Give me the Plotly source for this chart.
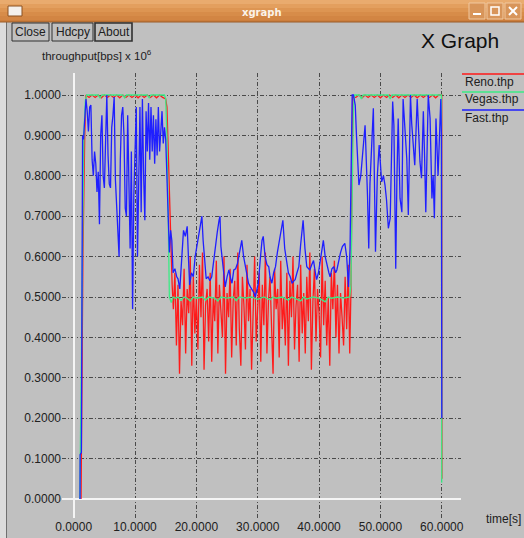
import plotly.graph_objects as go

# ---------------- data ----------------
series_names = ["Reno.thp", "Vegas.thp", "Fast.thp"]
x_tick_values = [0, 10, 20, 30, 40, 50, 60]

# Reno: explicit points
reno_rise = [(1.2, 0.0), (1.5, 0.6), (1.8, 0.9), (2.0, 1.0)]
reno_flat1_t0, reno_flat1_dt = 2.5, 0.5
reno_flat1_v = [0.994, 1.0, 0.994, 1.0, 0.993, 1.0, 0.994, 1.0, 0.994, 1.0, 0.993, 1.0, 0.994,
                1.0, 0.994, 1.0, 0.993, 1.0, 0.994, 1.0, 0.994, 1.0, 0.993, 1.0, 0.994, 0.99]
reno_drop = [(15.2, 0.97), (15.5, 0.80), (15.8, 0.64), (16.05, 0.53)]
reno_osc_t0, reno_osc_dt = 16.25, 0.25
reno_osc_v = [0.47, 0.56, 0.38, 0.53, 0.31, 0.49, 0.43, 0.57,
              0.36, 0.52, 0.46, 0.60, 0.33, 0.55, 0.41, 0.50,
              0.37, 0.58, 0.45, 0.61, 0.32, 0.48, 0.52, 0.39,
              0.56, 0.34, 0.50, 0.44, 0.59, 0.36, 0.53, 0.47,
              0.40, 0.60, 0.31, 0.51, 0.45, 0.57, 0.35, 0.49,
              0.54, 0.38, 0.61, 0.42, 0.33, 0.55, 0.48, 0.37,
              0.58, 0.44, 0.52, 0.32, 0.50, 0.60, 0.39, 0.46,
              0.56, 0.34, 0.53, 0.43, 0.61, 0.36, 0.49, 0.55,
              0.40, 0.31, 0.57, 0.47, 0.52, 0.35, 0.59, 0.42,
              0.50, 0.38, 0.56, 0.33, 0.54, 0.45, 0.60, 0.37,
              0.48, 0.53, 0.34, 0.58, 0.41, 0.51, 0.36, 0.55,
              0.44, 0.61, 0.32, 0.49, 0.57, 0.39, 0.52, 0.46,
              0.35, 0.60, 0.43, 0.54, 0.38, 0.50, 0.33, 0.56,
              0.47, 0.59, 0.40, 0.53, 0.36, 0.51, 0.45, 0.38,
              0.55, 0.42, 0.58, 0.36]
reno_rise2 = [(45.2, 0.52), (45.35, 0.85), (45.5, 0.995)]
reno_flat2_t0, reno_flat2_dt = 46.0, 0.5
reno_flat2_v = [0.994, 1.0, 0.993, 1.0, 0.994, 1.0, 0.994, 1.0, 0.993, 1.0, 0.994, 1.0, 0.994, 1.0,
                0.993, 1.0, 0.994, 1.0, 0.994, 1.0, 0.993, 1.0, 0.994, 1.0, 0.994, 1.0, 0.993, 1.0, 1.0]
reno_end = [(60.03, 0.05)]

# Vegas
vegas_pts = [(1.0, 0.0), (1.3, 0.33), (1.4, 0.56), (1.65, 0.90), (1.9, 0.985), (2.1, 1.0),
             (4.0, 1.0), (4.3, 0.992), (4.6, 1.0), (8.0, 1.0), (8.3, 0.993), (8.6, 1.0),
             (12.0, 1.0), (12.3, 0.993), (12.6, 1.0), (14.8, 1.0), (15.0, 0.99),
             (15.2, 0.90), (15.4, 0.70), (15.6, 0.50), (15.9, 0.486), (16.2, 0.50),
             (16.6, 0.497), (17.0, 0.50), (17.5, 0.492), (18.0, 0.50), (18.5, 0.497),
             (19.0, 0.49), (19.5, 0.50), (20.0, 0.497), (21.0, 0.50), (21.5, 0.492),
             (22.0, 0.50), (23.0, 0.497), (23.5, 0.49), (24.0, 0.50), (25.0, 0.497),
             (26.0, 0.50), (26.5, 0.491), (27.0, 0.50), (28.0, 0.497), (29.0, 0.50),
             (30.0, 0.494), (31.0, 0.50), (32.0, 0.493), (32.5, 0.50), (33.0, 0.497),
             (34.0, 0.50), (35.0, 0.492), (35.5, 0.50), (36.0, 0.497), (37.0, 0.49),
             (37.5, 0.50), (38.0, 0.495), (39.0, 0.50), (40.0, 0.497), (41.0, 0.488),
             (41.5, 0.50), (42.0, 0.497), (43.0, 0.50), (44.0, 0.497), (45.0, 0.50),
             (45.2, 0.53), (45.4, 0.80), (45.6, 0.97), (45.8, 1.0), (46.6, 1.0),
             (46.9, 0.99), (47.2, 1.0), (51.3, 1.0), (51.6, 0.99), (51.9, 1.0),
             (59.95, 1.0), (60.0, 0.04)]

# Fast
fast_start = [(1.03, 0.0), (1.05, 0.11), (1.25, 0.115), (1.3, 0.34), (1.35, 0.80), (1.45, 0.90)]
fast_r1_t0, fast_r1_dt = 1.6, 0.2
fast_r1_v = [0.89, 0.93, 0.99, 0.96, 0.91, 0.97, 0.975, 0.84, 0.80, 0.86,
             0.83, 0.76, 0.81, 0.68, 0.90, 0.95, 0.80, 0.77, 0.88, 1.0,
             0.85, 0.78, 0.77, 0.92, 0.95, 0.995, 0.79, 0.72, 0.66, 0.60,
             0.84, 0.95, 0.97, 0.90, 0.72, 0.70, 0.95, 0.78, 0.62, 0.86,
             0.47, 0.75, 0.90, 0.97, 0.60, 0.85, 0.97, 0.71, 0.99, 0.80,
             0.69, 0.96, 0.86, 0.98, 0.84, 0.97, 0.86, 0.95, 0.83, 0.94,
             0.85, 0.97, 0.86, 0.91, 0.96, 0.88, 0.92, 0.89, 0.80]
fast_r2 = [(15.4, 0.67), (15.6, 0.61), (15.8, 0.665), (16.0, 0.64), (16.2, 0.56), (16.5, 0.57),
           (16.8, 0.55), (17.0, 0.545), (17.3, 0.52), (17.6, 0.60), (17.9, 0.665), (18.2, 0.65),
           (18.5, 0.675), (18.7, 0.60), (18.9, 0.53), (19.2, 0.56), (19.5, 0.55), (19.8, 0.60),
           (20.1, 0.63), (20.4, 0.66), (20.7, 0.68), (20.9, 0.70), (21.1, 0.64), (21.3, 0.59),
           (21.6, 0.545), (21.9, 0.55), (22.2, 0.54), (22.5, 0.55), (22.8, 0.59), (23.1, 0.62),
           (23.4, 0.66), (23.7, 0.69), (23.85, 0.70), (24.0, 0.625), (24.3, 0.58), (24.7, 0.525),
           (25.0, 0.55), (25.3, 0.567), (25.6, 0.545), (25.8, 0.534), (26.1, 0.567), (26.4, 0.57),
           (26.7, 0.583), (27.0, 0.61), (27.4, 0.64), (27.7, 0.60), (28.0, 0.575), (28.5, 0.534),
           (28.8, 0.525), (29.1, 0.517), (29.4, 0.51), (29.6, 0.50), (29.9, 0.52), (30.1, 0.534),
           (30.4, 0.59), (30.7, 0.64), (30.9, 0.65), (31.2, 0.60), (31.5, 0.58), (31.8, 0.575),
           (32.0, 0.55), (32.3, 0.534), (32.6, 0.56), (32.9, 0.575), (33.2, 0.61), (33.5, 0.64),
           (33.8, 0.67), (34.1, 0.69), (34.4, 0.62), (34.7, 0.59), (35.0, 0.56), (35.3, 0.55),
           (35.6, 0.534), (35.9, 0.54), (36.1, 0.543), (36.4, 0.56), (36.7, 0.575), (37.0, 0.63),
           (37.2, 0.67), (37.4, 0.69), (37.7, 0.62), (38.0, 0.575), (38.3, 0.57), (38.5, 0.567),
           (38.8, 0.58), (39.1, 0.59), (39.4, 0.56), (39.6, 0.543), (39.9, 0.56), (40.2, 0.59),
           (40.5, 0.62), (40.7, 0.64), (41.0, 0.60), (41.3, 0.575), (41.6, 0.56), (41.8, 0.55),
           (42.1, 0.57), (42.4, 0.575), (42.7, 0.56), (42.9, 0.567), (43.2, 0.59), (43.5, 0.61),
           (43.8, 0.625), (44.2, 0.633), (44.5, 0.60), (44.8, 0.525), (45.05, 0.62), (45.15, 0.75),
           (45.3, 0.99), (45.4, 1.0)]
fast_r3 = [(45.6, 1.0), (45.9, 0.975), (46.1, 0.90), (46.5, 0.777), (46.8, 0.80), (47.0, 0.84),
           (47.2, 0.885), (47.5, 0.925), (47.9, 0.75), (48.1, 0.62), (48.3, 0.78), (48.6, 0.90),
           (48.85, 0.967), (49.2, 0.612), (49.5, 0.80), (49.8, 0.876), (50.0, 0.83), (50.2, 0.785),
           (50.5, 0.80), (50.75, 0.777), (51.0, 0.74), (51.3, 0.67), (51.6, 0.695), (51.8, 0.90),
           (52.0, 0.984), (52.2, 0.925), (52.5, 0.57), (52.7, 0.80), (52.9, 0.942), (53.2, 0.744),
           (53.5, 0.71), (53.7, 0.99), (54.0, 0.90), (54.3, 0.843), (54.55, 0.703), (54.9, 1.0),
           (55.1, 0.93), (55.4, 0.86), (55.6, 0.826), (56.0, 0.99), (56.2, 0.90), (56.45, 0.835),
           (56.7, 0.794), (57.0, 0.96), (57.2, 0.85), (57.4, 0.71), (57.8, 1.0), (58.1, 0.942),
           (58.4, 0.744), (58.6, 0.80), (58.8, 0.695), (59.06, 0.942), (59.4, 0.80), (59.7, 0.90),
           (59.85, 0.99), (59.95, 0.90), (60.0, 0.596), (60.01, 0.2)]


def grid(t0, dt, values):
    return [(round(t0 + i * dt, 4), v) for i, v in enumerate(values)]


reno_pts = (reno_rise + grid(reno_flat1_t0, reno_flat1_dt, reno_flat1_v) + reno_drop
            + grid(reno_osc_t0, reno_osc_dt, reno_osc_v) + reno_rise2
            + grid(reno_flat2_t0, reno_flat2_dt, reno_flat2_v) + reno_end)
fast_pts = fast_start + grid(fast_r1_t0, fast_r1_dt, fast_r1_v) + fast_r2 + fast_r3

series_pts = [reno_pts, vegas_pts, fast_pts]
series_colors = ["#ff1a1a", "#3ceb86", "#1f1fff"]

# ---------------- figure ----------------
W, H = 524, 538
L, R, T, B = 62, 461, 73, 518  # plot area in pixels
BG = "#c0c0c0"
FONT = "Liberation Sans, Arial, sans-serif"
GRID_DASH = "4px,2px,1px,2px"


def px(x):
    return (x - L) / (R - L)


def py(y):
    return (B - y) / (B - T)


fig = go.Figure()
for name, pts, col in zip(series_names, series_pts, series_colors):
    fig.add_trace(go.Scatter(x=[p[0] for p in pts], y=[p[1] for p in pts], mode="lines",
                             name=name, line=dict(color=col, width=1.3), showlegend=False,
                             hoverinfo="skip"))

shapes = []
annotations = []

# left window frame
shapes.append(dict(type="rect", xref="paper", yref="paper", x0=px(0), x1=px(6), y0=py(538), y1=py(22),
                   fillcolor="#dcdcdc", line=dict(width=0), layer="below"))
shapes.append(dict(type="line", xref="paper", yref="paper", x0=px(6.5), x1=px(6.5), y0=py(538), y1=py(22),
                   line=dict(color="#707070", width=1)))

# title bar (gradient by strips)
bar_cols = ["#e9ab6e", "#e39f5e", "#dd9552", "#d78c49", "#d28543", "#cc7e3c"]
for i, c in enumerate(bar_cols):
    shapes.append(dict(type="rect", xref="paper", yref="paper", x0=px(0), x1=px(524),
                       y0=py(4 * i + 4 if i < 5 else 22), y1=py(4 * i), fillcolor=c, line=dict(width=0)))
shapes.append(dict(type="line", xref="paper", yref="paper", x0=px(0), x1=px(524), y0=py(22), y1=py(22),
                   line=dict(color="#9a5a26", width=1)))
# window-menu icon
shapes.append(dict(type="rect", xref="paper", yref="paper", x0=px(8), x1=px(22), y0=py(16), y1=py(6),
                   fillcolor="#f4f0ec", line=dict(color="#8a5020", width=1)))
# title-bar buttons
for x0 in [469, 487, 505]:
    shapes.append(dict(type="rect", xref="paper", yref="paper", x0=px(x0), x1=px(x0 + 16), y0=py(19), y1=py(3),
                       fillcolor="#d8955a", line=dict(color="#f0c8a0", width=1)))
shapes.append(dict(type="line", xref="paper", yref="paper", x0=px(473), x1=px(481), y0=py(14), y1=py(14),
                   line=dict(color="white", width=2)))
shapes.append(dict(type="rect", xref="paper", yref="paper", x0=px(491), x1=px(499), y0=py(15), y1=py(7),
                   line=dict(color="white", width=1.5)))
shapes.append(dict(type="line", xref="paper", yref="paper", x0=px(509), x1=px(517), y0=py(15), y1=py(7),
                   line=dict(color="white", width=2)))
shapes.append(dict(type="line", xref="paper", yref="paper", x0=px(509), x1=px(517), y0=py(7), y1=py(15),
                   line=dict(color="white", width=2)))
annotations.append(dict(x=px(262), y=py(12), xref="paper", yref="paper", text="<b>xgraph</b>", showarrow=False,
                        font=dict(family="DejaVu Sans", size=10, color="#fbf3ea"), xanchor="center", yanchor="middle"))

# control buttons
for label, x0, x1, w in [("Close", 12, 49, 1), ("Hdcpy", 52, 93, 1), ("About", 95, 132, 1.6)]:
    shapes.append(dict(type="rect", xref="paper", yref="paper", x0=px(x0), x1=px(x1), y0=py(41), y1=py(23),
                       line=dict(color="#303030", width=w)))
    annotations.append(dict(x=px((x0 + x1) / 2), y=py(32), xref="paper", yref="paper", text=label,
                            showarrow=False, font=dict(family=FONT, size=12, color="#202020"),
                            xanchor="center", yanchor="middle"))

annotations.append(dict(x=px(460), y=py(40), xref="paper", yref="paper", text="X Graph", showarrow=False,
                        font=dict(family=FONT, size=21, color="#101010"), xanchor="center", yanchor="middle"))
annotations.append(dict(x=px(40), y=py(55), xref="paper", yref="paper",
                        text="throughput[bps] x 10<sup>6</sup>", showarrow=False,
                        font=dict(family=FONT, size=11.5, color="#202020"), xanchor="left", yanchor="middle"))
annotations.append(dict(x=px(523), y=py(519), xref="paper", yref="paper", text="time[s]", showarrow=False,
                        font=dict(family=FONT, size=12, color="#202020"), xanchor="right", yanchor="middle"))

# legend
for i, (name, col) in enumerate(zip(series_names, series_colors)):
    ly = 74 + 18 * i
    shapes.append(dict(type="line", xref="paper", yref="paper", x0=px(462), x1=px(524), y0=py(ly), y1=py(ly),
                       line=dict(color=col, width=1.3)))
    annotations.append(dict(x=px(463), y=py(ly + 7.5), xref="paper", yref="paper", text=name, showarrow=False,
                            font=dict(family=FONT, size=12, color="#202020"), xanchor="left", yanchor="middle"))

# axis mapping: x=0 -> px 73.7, 6.134 px per unit; y=0 -> py 499, 404 px per unit
x0px, xs = 73.7, 6.134
y0px, ys = 499.0, 404.0
xr = [(L - x0px) / xs, (R - x0px) / xs]
yr = [(y0px - B) / ys, (y0px - T) / ys]

fig.update_layout(
    width=W, height=H, margin=dict(l=L, r=W - R, t=T, b=H - B, autoexpand=False),
    paper_bgcolor=BG, plot_bgcolor=BG, showlegend=False,
    shapes=shapes, annotations=annotations,
    xaxis=dict(range=xr, tickvals=x_tick_values, tickformat=".4f", showgrid=True, gridcolor="#4a4a4a",
               griddash=GRID_DASH, gridwidth=1, zeroline=True, zerolinecolor="#f4f4f4", zerolinewidth=1.5,
               showline=False, ticks="", automargin=False,
               tickfont=dict(family=FONT, size=12, color="#202020")),
    yaxis=dict(range=yr, tick0=0, dtick=0.1, tickformat=".4f", showgrid=True, gridcolor="#4a4a4a",
               griddash=GRID_DASH, gridwidth=1, zeroline=True, zerolinecolor="#f4f4f4", zerolinewidth=1.5,
               showline=False, ticks="", automargin=False,
               tickfont=dict(family=FONT, size=12, color="#202020")),
)

fig.write_html("out.html", config={"displayModeBar": False},
               post_script="document.body.style.margin='0px';document.body.style.overflow='hidden';")
